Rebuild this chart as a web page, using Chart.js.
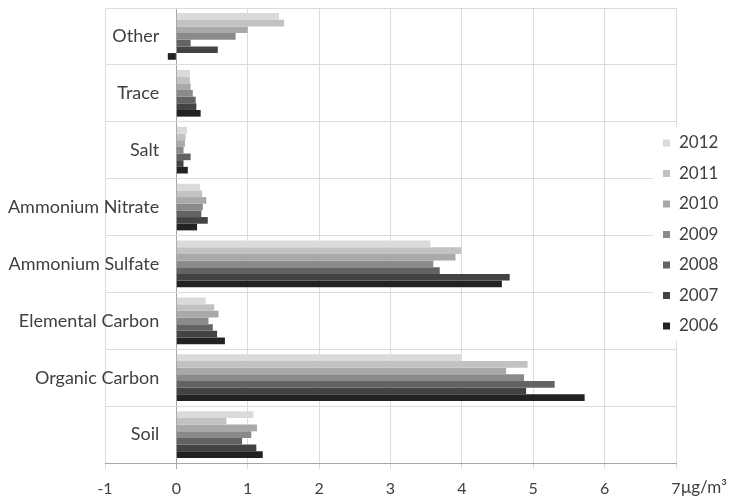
<!DOCTYPE html>
<html>
<head>
<meta charset="utf-8">
<script src="https://cdn.jsdelivr.net/npm/chart.js@4.4.0/dist/chart.umd.min.js"></script>
<style>
  html, body { margin: 0; padding: 0; background: #fff; }
  #wrap { width: 736px; height: 500px; }
</style>
</head>
<body>
<div id="wrap"><canvas id="chart"></canvas></div>
<script>
/* PM2.5 composition by year, horizontal grouped bars */

var categories = ['Other', 'Trace', 'Salt', 'Ammonium Nitrate', 'Ammonium Sulfate',
                  'Elemental Carbon', 'Organic Carbon', 'Soil'];
var years = ['2012', '2011', '2010', '2009', '2008', '2007', '2006'];

var v2012 = [1.44, 0.19, 0.15, 0.33, 3.56, 0.41, 3.99, 1.08];
var v2011 = [1.51, 0.19, 0.13, 0.36, 3.99, 0.53, 4.92, 0.70];
var v2010 = [1.00, 0.20, 0.12, 0.42, 3.91, 0.59, 4.62, 1.13];
var v2009 = [0.83, 0.23, 0.10, 0.37, 3.60, 0.45, 4.87, 1.05];
var v2008 = [0.20, 0.27, 0.20, 0.35, 3.69, 0.51, 5.30, 0.92];
var v2007 = [0.58, 0.28, 0.10, 0.44, 4.67, 0.57, 4.90, 1.12];
var v2006 = [-0.12, 0.34, 0.16, 0.29, 4.56, 0.68, 5.72, 1.21];

var xTicks = [-1, 0, 1, 2, 3, 4, 5, 6, 7];
var unitLabel = 'μg/m³';

var series = [v2012, v2011, v2010, v2009, v2008, v2007, v2006];
var colors = ['#dadada', '#c2c2c2', '#a9a9a9', '#8a8a8a', '#636363', '#434343', '#222222'];

var TEXT = '#404040';
var FONT = 'Lato';

var datasets = years.map(function(y, i) {
  return {
    label: y,
    data: series[i],
    backgroundColor: colors[i],
    borderWidth: 0,
    barPercentage: 1.0,
    categoryPercentage: 0.82
  };
});

/* legend box drawn over the right part of the plot, like the original */
var sideLegend = {
  id: 'sideLegend',
  afterDraw: function(chart) {
    var ctx = chart.ctx;
    ctx.save();
    ctx.fillStyle = '#ffffff';
    ctx.fillRect(653, 127, 83, 214);
    ctx.font = '17px ' + FONT;
    ctx.textBaseline = 'middle';
    ctx.textAlign = 'left';
    years.forEach(function(y, i) {
      var cy = 143 + i * 30.5;
      ctx.fillStyle = colors[i];
      ctx.fillRect(663, cy - 3.5, 7, 7);
      ctx.fillStyle = TEXT;
      ctx.fillText(y, 679, cy);
    });
    /* unit after the last tick */
    var xs = chart.scales.x;
    ctx.font = '17px ' + FONT;
    ctx.fillText(unitLabel, xs.getPixelForValue(7) + 5, 488);
    ctx.restore();
  }
};

new Chart(document.getElementById('chart'), {
  type: 'bar',
  data: { labels: categories, datasets: datasets },
  plugins: [sideLegend],
  options: {
    indexAxis: 'y',
    responsive: true,
    maintainAspectRatio: false,
    animation: false,
    layout: { padding: { top: 8, right: 60, bottom: 0, left: 105 } },
    plugins: {
      legend: { display: false },
      tooltip: { enabled: false }
    },
    scales: {
      x: {
        min: -1, max: 7,
        afterBuildTicks: function(axis) {
          axis.ticks = xTicks.map(function(v) { return { value: v }; });
        },
        afterFit: function(axis) { axis.height = 37; },
        grid: {
          color: function(c) { return c.tick && c.tick.value === 0 ? '#a6a6a6' : '#dcdcdc'; },
          tickLength: 6,
          drawTicks: true
        },
        border: { color: '#a6a6a6' },
        ticks: {
          color: TEXT,
          font: { family: FONT, size: 16 },
          padding: 10,
          callback: function(v) { return v; }
        }
      },
      y: {
        // labels sit just left of the zero line, inside the -1..0 band
        position: { x: -0.24 },
        afterFit: function(axis) { axis.paddingTop = 0; axis.paddingBottom = 0; },
        grid: { color: '#dcdcdc', offset: true, drawTicks: false },
        border: { display: false },
        ticks: {
          color: TEXT,
          font: { family: FONT, size: 18 }
        }
      }
    }
  }
});
</script>
</body>
</html>
